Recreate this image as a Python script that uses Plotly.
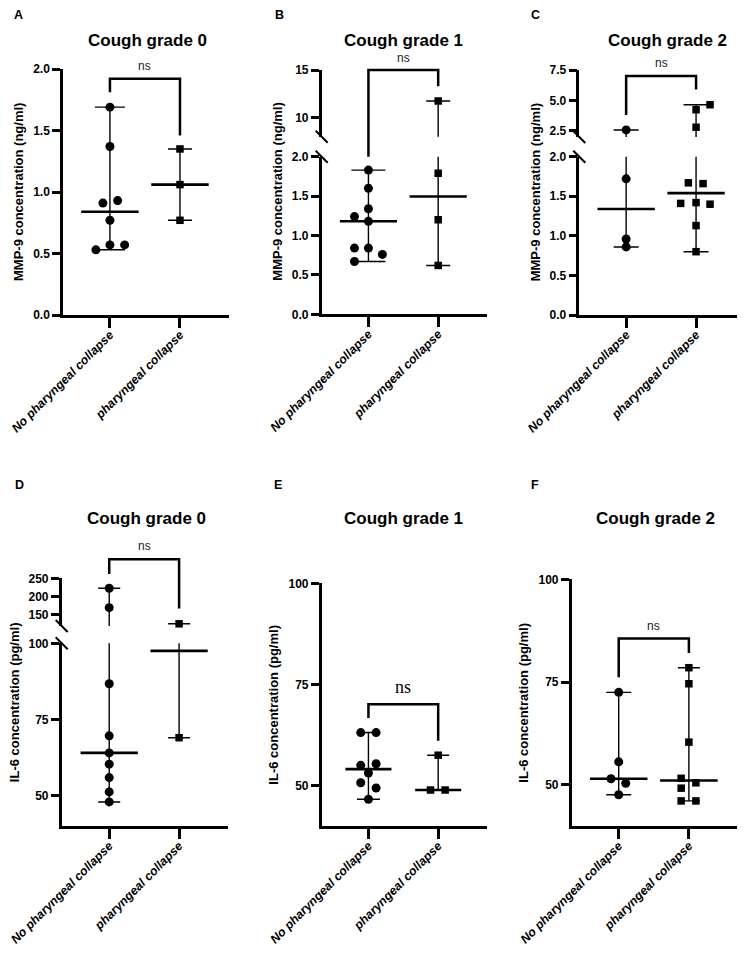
import numpy as np
import plotly.graph_objects as go

# the page puts the figure 8 px in from the top-left corner
OFF = 8
W, H = 745 - OFF, 956 - OFF
GROUPS = ["No pharyngeal collapse", "pharyngeal collapse"]
SANS = "Liberation Sans, Arial, sans-serif"
SERIF = "Liberation Serif, Times New Roman, serif"

# MMP-9 (ng/ml), *_dx = horizontal spread of the dots
a_no = [1.69, 1.37, 0.91, 0.93, 0.77, 0.57, 0.57, 0.53]
a_no_dx = [0, 0, -0.1, 0.11, 0, 0, 0.21, -0.2]
a_pc = [1.35, 1.06, 0.77]
a_pc_dx = [0, 0, 0]

b_no = [1.83, 1.60, 1.34, 1.24, 1.18, 0.84, 0.84, 0.76, 0.67]
b_no_dx = [0, 0, 0, -0.2, 0, -0.2, 0, 0.2, -0.2]
b_pc = [11.75, 1.79, 1.20, 0.62]
b_pc_dx = [0, 0, 0, 0]

c_no = [2.58, 1.72, 0.96, 0.86]
c_no_dx = [0, 0, 0, 0]
c_pc = [4.65, 4.24, 2.80, 1.67, 1.66, 1.41, 1.42, 1.40, 1.13, 0.80]
c_pc_dx = [0.2, 0, 0, -0.11, 0.1, -0.22, 0, 0.2, 0, 0]

# IL-6 (pg/ml)
d_no = [222.8, 170.0, 86.7, 69.6, 64.0, 60.3, 55.9, 51.2, 47.9]
d_no_dx = [0, 0, 0, 0, 0, 0, 0, 0, 0]
d_pc = [126.0, 69.0]
d_pc_dx = [0, 0]

e_no = [63.1, 63.1, 55.0, 55.4, 53.1, 50.7, 49.4, 46.6]
e_no_dx = [-0.11, 0.11, -0.11, 0.11, 0, -0.11, 0.11, 0]
e_pc = [57.5, 48.9, 48.9]
e_pc_dx = [0, -0.11, 0.1]

f_no = [72.5, 55.6, 51.5, 50.4, 47.6]
f_no_dx = [0, 0, -0.11, 0.1, 0]
f_pc = [78.5, 74.6, 60.4, 51.6, 50.5, 49.2, 46.1, 46.1]
f_pc_dx = [0, 0, 0, -0.11, 0.1, -0.11, -0.11, 0.1]

# significance brackets: top, end of left leg, end of right leg
a_ns = [1.92, 1.81, 1.46]
b_ns = [15.0, 2.0, 13.3]
c_ns = [7.0, 3.8, 5.9]
d_ns = [302, 262, 168]
e_ns = [70.1, 66.7, 61.1]
f_ns = [85.6, 76.2, 82.1]

# tick values / labels
mmp_ticks = [0, 0.5, 1.0, 1.5, 2.0]
mmp_text = ["0.0", "0.5", "1.0", "1.5", "2.0"]
b_up_ticks = [10, 15]
b_up_text = ["10", "15"]
c_up_ticks = [2.5, 5.0, 7.5]
c_up_text = ["2.5", "5.0", "7.5"]
il6_ticks = [50, 75, 100]
il6_text = ["50", "75", "100"]
d_up_ticks = [150, 200, 250]
d_up_text = ["150", "200", "250"]

MMP = "MMP-9 concentration (ng/ml)"
IL6 = "IL-6 concentration (pg/ml)"

# layout of the six panels, in page pixels (dom = top, bottom)
panels = [
    dict(letter="A", let_xy=(18, 8), title="Cough grade 0", title_xy=(147, 40),
         ylab=MMP, ylab_x=19, data=(a_no, a_pc), dx=(a_no_dx, a_pc_dx), ns=a_ns,
         ns_off=13, ns_serif=False, x=(63, 229), xr=(-0.67, 1.70),
         low=dict(dom=(69, 315), rng=(0, 2), tv=mmp_ticks, tt=mmp_text), up=None,
         caps=(15, 12), hw=0.41),
    dict(letter="B", let_xy=(279, 8), title="Cough grade 1", title_xy=(403, 40),
         ylab=MMP, ylab_x=277.5, data=(b_no, b_pc), dx=(b_no_dx, b_pc_dx), ns=b_ns,
         ns_off=12, ns_serif=False, x=(321.7, 487), xr=(-0.67, 1.70),
         low=dict(dom=(156.7, 314.3), rng=(0, 2), tv=mmp_ticks, tt=mmp_text),
         up=dict(dom=(70, 136.8), rng=(8, 15), tv=b_up_ticks, tt=b_up_text),
         caps=(17, 12), hw=0.41),
    dict(letter="C", let_xy=(535, 8), title="Cough grade 2", title_xy=(667, 40),
         ylab=MMP, ylab_x=535.8, data=(c_no, c_pc), dx=(c_no_dx, c_pc_dx), ns=c_ns,
         ns_off=13, ns_serif=False, x=(579.3, 745), xr=(-0.67, 1.70),
         low=dict(dom=(156.7, 315), rng=(0, 2), tv=mmp_ticks, tt=mmp_text),
         up=dict(dom=(70, 137), rng=(2, 7.5), tv=c_up_ticks, tt=c_up_text),
         caps=(12.5, 12.5), hw=0.41),
    dict(letter="D", let_xy=(19, 485), title="Cough grade 0", title_xy=(146, 518),
         ylab=IL6, ylab_x=14, data=(d_no, d_pc), dx=(d_no_dx, d_pc_dx), ns=d_ns,
         ns_off=13, ns_serif=False, x=(61.7, 228), xr=(-0.68, 1.70),
         low=dict(dom=(643.3, 826), rng=(40, 100), tv=il6_ticks, tt=il6_text),
         up=dict(dom=(578.3, 626), rng=(120, 250), tv=d_up_ticks, tt=d_up_text),
         caps=(11, 11), hw=0.41),
    dict(letter="E", let_xy=(278, 485), title="Cough grade 1", title_xy=(403, 518),
         ylab=IL6, ylab_x=274, data=(e_no, e_pc), dx=(e_no_dx, e_pc_dx), ns=e_ns,
         ns_off=17, ns_serif=True, x=(321.7, 487), xr=(-0.67, 1.70),
         low=dict(dom=(583.3, 826), rng=(40, 100), tv=il6_ticks, tt=il6_text), up=None,
         caps=(11.5, 11), hw=0.33),
    dict(letter="F", let_xy=(535, 485), title="Cough grade 2", title_xy=(655, 518),
         ylab=IL6, ylab_x=524, data=(f_no, f_pc), dx=(f_no_dx, f_pc_dx), ns=f_ns,
         ns_off=13, ns_serif=False, x=(571.7, 738), xr=(-0.67, 1.70),
         low=dict(dom=(579.3, 826), rng=(40, 100), tv=il6_ticks, tt=il6_text), up=None,
         caps=(12.5, 11), hw=0.41),
]


def fx(p):
    return min(max((p - OFF) / W, 0), 1)


def fy(p):
    return min(max(1 - (p - OFF) / H, 0), 1)


def aid(letter, n):
    return letter if n == 1 else f"{letter}{n}"


def seg_of(p, v):
    if p["up"] is not None and v > p["low"]["rng"][1]:
        return "up"
    return "low"


def to_paper(p, v):
    s = p[seg_of(p, v)]
    top, bot = s["dom"]
    r0, r1 = s["rng"]
    return fy(bot - (v - r0) / (r1 - r0) * (bot - top))


fig = go.Figure()
layout = {}
shapes = []
annots = []
symbols = ["circle", "square"]
msize = [9, 7.5]

xn, yn = 0, 0
for p in panels:
    xn += 1
    xa = aid("x", xn)
    ids = {}
    for name in ["low", "up"]:
        if p[name] is None:
            continue
        yn += 1
        ids[name] = aid("y", yn)
        s = p[name]
        layout["yaxis" if yn == 1 else f"yaxis{yn}"] = dict(
            domain=[fy(s["dom"][1]), fy(s["dom"][0])], range=list(s["rng"]),
            anchor=xa, tickvals=s["tv"], ticktext=s["tt"], showgrid=False,
            zeroline=False, showline=True, linewidth=2.5, linecolor="black",
            ticks="outside", ticklen=8, tickwidth=2.5, tickcolor="black",
            automargin=False,
            tickfont=dict(family=SANS, size=12, color="black", weight="bold"),
        )
    layout["xaxis" if xn == 1 else f"xaxis{xn}"] = dict(
        domain=[fx(p["x"][0]), fx(p["x"][1])], range=list(p["xr"]), type="linear",
        anchor=ids["low"], tickvals=[0, 1], ticktext=GROUPS, tickangle=-45,
        showgrid=False, zeroline=False, showline=True, linewidth=2.5,
        linecolor="black", ticks="outside", ticklen=10, tickwidth=2.5,
        tickcolor="black", automargin=False, ticklabeloverflow="allow",
        ticklabelstandoff=-5,
        tickfont=dict(family=SANS, size=12.3, color="black", weight="bold", style="italic"),
    )

    for g in range(2):
        vals = np.array(p["data"][g], dtype=float)
        dx = np.array(p["dx"][g], dtype=float)
        med = float(np.median(vals))
        for name, yid in ids.items():
            # range bar with caps (clipped to each axis segment)
            fig.add_trace(go.Scatter(
                x=[g], y=[med], xaxis=xa, yaxis=yid, mode="markers",
                marker=dict(size=1, opacity=0), hoverinfo="skip",
                error_y=dict(type="data", symmetric=False,
                             array=[vals.max() - med], arrayminus=[med - vals.min()],
                             width=p["caps"][g], thickness=1.4, color="black"),
            ))
            mask = np.array([seg_of(p, v) == name for v in vals])
            if mask.any():
                fig.add_trace(go.Scatter(
                    x=g + dx[mask], y=vals[mask], xaxis=xa, yaxis=yid, mode="markers",
                    marker=dict(symbol=symbols[g], size=msize[g], color="black"),
                    cliponaxis=False,
                ))
            if seg_of(p, med) == name:
                fig.add_trace(go.Scatter(
                    x=[g - p["hw"], g + p["hw"]], y=[med, med], xaxis=xa, yaxis=yid,
                    mode="lines", line=dict(color="black", width=2.6),
                ))

    # axis break marks
    if p["up"] is not None:
        ax_x = p["x"][0]
        for yb in (p["up"]["dom"][1], p["low"]["dom"][0]):
            shapes.append(dict(type="line", xref="paper", yref="paper",
                               x0=fx(ax_x - 6), y0=fy(yb - 6), x1=fx(ax_x + 6), y1=fy(yb + 6),
                               line=dict(color="black", width=2)))

    # significance bracket
    top, left, right = p["ns"]
    yt, yl, yr = to_paper(p, top), to_paper(p, left), to_paper(p, right)
    shapes.append(dict(type="path", xref=xa, yref="paper",
                       path=f"M 0,{yl} L 0,{yt} L 1,{yt} L 1,{yr}",
                       line=dict(color="black", width=2.5)))
    if p["ns_serif"]:
        ns_font = dict(family=SERIF, size=18, color="black")
    else:
        ns_font = dict(family=SANS, size=12, color="#222222")
    annots.append(dict(text="ns", xref=xa, yref="paper", x=0.5,
                       y=yt + p["ns_off"] / H, xanchor="center", yanchor="middle",
                       showarrow=False, font=ns_font))

    # titles, panel letters, y axis titles
    annots.append(dict(text=p["title"], xref="paper", yref="paper",
                       x=fx(p["title_xy"][0]), y=fy(p["title_xy"][1]),
                       xanchor="center", yanchor="middle", showarrow=False,
                       font=dict(family=SANS, size=17, color="black", weight="bold")))
    annots.append(dict(text=p["letter"], xref="paper", yref="paper",
                       x=fx(p["let_xy"][0]), y=fy(max(p["let_xy"][1], OFF + 7)),
                       xanchor="center", yanchor="middle", showarrow=False,
                       font=dict(family=SANS, size=12.5, color="black", weight="bold")))
    top_px = p["up"]["dom"][0] if p["up"] is not None else p["low"]["dom"][0]
    ymid = (top_px + p["low"]["dom"][1]) / 2
    annots.append(dict(text=p["ylab"], xref="paper", yref="paper",
                       x=fx(p["ylab_x"]), y=fy(ymid), textangle=-90,
                       xanchor="center", yanchor="middle", showarrow=False,
                       font=dict(family=SANS, size=13, color="black", weight="bold")))

fig.update_layout(
    template="none",
    width=W, height=H, margin=dict(l=0, r=0, t=0, b=0, pad=0, autoexpand=False),
    paper_bgcolor="white", plot_bgcolor="white", showlegend=False,
    shapes=shapes, annotations=annots, **layout,
)

fig.write_html("out.html")
